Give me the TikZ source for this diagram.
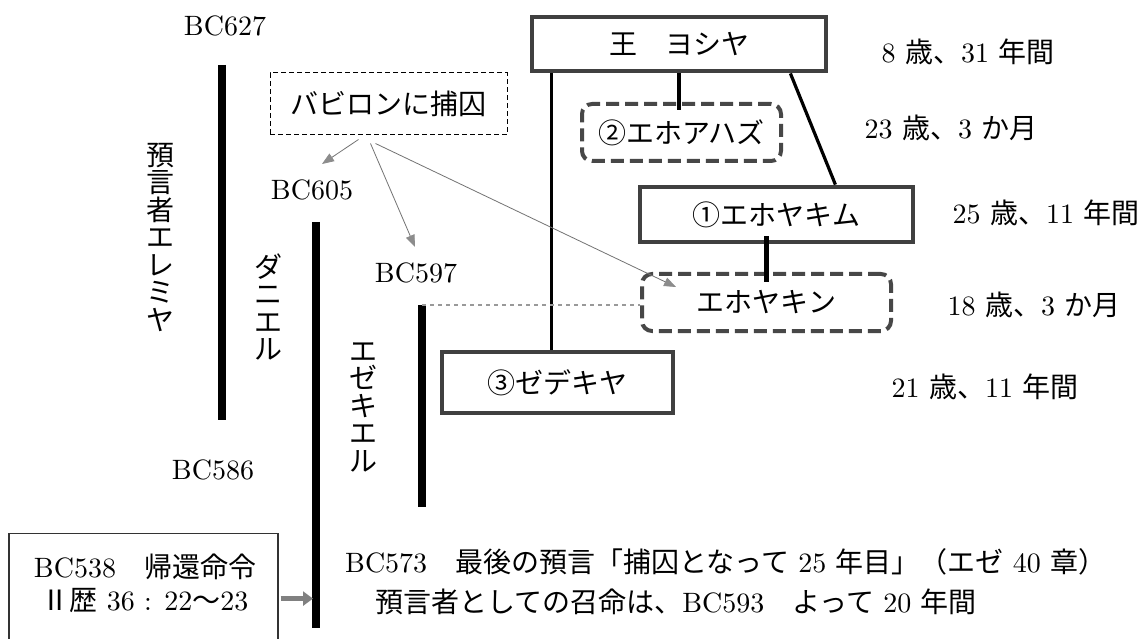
\documentclass[tikz,border=0pt]{standalone}
\usepackage{fontspec}
\setmainfont{lmroman10-regular.otf}
\newfontfamily\jp{Noto Sans CJK JP}
\usetikzlibrary{arrows.meta,calc}
\newcommand\J[1]{{\jp #1}}
\begin{document}
\begin{tikzpicture}[x=1pt,y=-1pt,
  every node/.style={inner sep=0pt, font=\fontsize{28}{28}\selectfont},
  kingbox/.style={draw=black!75, line width=4.8pt},
  dashbox/.style={draw=black!72, line width=4pt, dash pattern=on 13pt off 6pt, rounded corners=10pt},
  thinbox/.style={draw=black, line width=1pt, dash pattern=on 5pt off 3pt},
  bar/.style={line width=7.5pt, black},
  link/.style={line width=3.2pt, black},
  thicklink/.style={line width=4.6pt, black},
  garrow/.style={draw=black!55, line width=0.8pt, -{Triangle[length=12pt,width=9pt,color=black!45]}},
  dotline/.style={draw=black!40, line width=1.5pt, dash pattern=on 4pt off 4pt},
  retarrow/.style={draw=black!50, line width=5pt, -{Triangle[length=10pt,width=14pt]}},
  vtext/.style={align=center, font=\jp\fontsize{28}{27.5}\selectfont}]
\fill[white] (0,0) rectangle (1144,639);
\useasboundingbox (0,0) rectangle (1144,639);

% timeline bars
\coordinate (jt) at (222,65);  \coordinate (jb) at (222,420);
\coordinate (dt) at (316,222); \coordinate (db) at (316,628);
\coordinate (et) at (422,305); \coordinate (eb) at (422,507);
\draw[bar] (jt) -- (jb);
\draw[bar] (dt) -- (db);
\draw[bar] (et) -- (eb);

% year labels
\node (bc627) at (225,26) {BC627};
\node (bc605) at (312,190) {BC605};
\node (bc597) at (416,273) {BC597};
\node (bc586) at (213,470) {BC586};

% vertical names
\node[vtext] (jeremiah) at (160,237) {預\\言\\者\\エ\\レ\\ミ\\ヤ};
\node[vtext] (daniel) at (268,307) {ダ\\ニ\\エ\\ル};
\node[vtext] (ezekiel) at (363,407) {エ\\ゼ\\キ\\エ\\ル};

% kings
\node[kingbox, minimum width=294pt, minimum height=54pt] (josiah) at (679,44) {\J{王　ヨシヤ}};
\node[dashbox, minimum width=199pt, minimum height=57pt] (jehoahaz) at (681.5,132.5) {\J{②エホアハズ}};
\node[kingbox, minimum width=273pt, minimum height=55pt] (jehoiakim) at (776.5,214.5) {\J{①エホヤキム}};
\node[dashbox, minimum width=249pt, minimum height=57pt] (jehoiachin) at (766.5,302.5) {\J{エホヤキン}};
\node[kingbox, minimum width=231pt, minimum height=61pt] (zedekiah) at (557.5,382.5) {\J{③ゼデキヤ}};
\node[thinbox, minimum width=237pt, minimum height=62pt] (babylon) at (388.5,104) {\J{バビロンに捕囚}};

% ages
\node (age1) at (968,52) {8 \J{歳、}31 \J{年間}};
\node (age2) at (951,128) {23 \J{歳、}3 \J{か月}};
\node (age3) at (1046,213) {25 \J{歳、}11 \J{年間}};
\node (age4) at (1034,305) {18 \J{歳、}3 \J{か月}};
\node (age5) at (985,387) {21 \J{歳、}11 \J{年間}};

% family links
\coordinate (jl) at ($(josiah.south west)+(22,0)$);
\draw[link] (jl) -- (jl |- zedekiah.north);
\draw[thicklink] (josiah.south) -- ($(josiah.south |- jehoahaz.north)+(0,8)$);
\draw[link] ($(josiah.south east)+(-38,0)$) -- ($(jehoiakim.north east)+(-80,0)$);
\draw[thicklink] ($(jehoiakim.south)+(-10,-8)$) -- ($(jehoiachin.north)+(0,10)$);
\draw[dotline] (et) -- (et -| jehoiachin.west);

% captivity arrows
\coordinate (t605) at (322,164);
\coordinate (t597) at (415,247);
\coordinate (tjc) at (676,287);
\draw[garrow] ($(babylon.south)+(-30,4)$) -- (t605);
\draw[garrow] ($(babylon.south)+(-18,8)$) -- (t597);
\draw[garrow] ($(babylon.south)+(-13,8)$) -- (tjc);

% return decree box
\node[draw=black!80, line width=1.2pt, minimum width=269pt, minimum height=130pt, anchor=north] (retbox) at (143.5,533) {};
\node[align=center, font=\fontsize{28}{33}\selectfont] (rettext) at (145,583) {BC538\J{　帰還命令}\\\J{Ⅱ歴} 36 : 22\J{〜}23};
\coordinate (ra) at ($(retbox.east)+(2,0)$);
\draw[retarrow] (ra) -- ($(ra -| db)+(-3,0)$);

% notes
\node[anchor=west] (note1) at (345,562) {BC573\J{　最後の預言「捕囚となって} 25 \J{年目」（エゼ} 40 \J{章）}};
\node[anchor=west] (note2) at (375,602) {\J{預言者としての召命は、}BC593\J{　よって} 20 \J{年間}};
\end{tikzpicture}
\end{document}
